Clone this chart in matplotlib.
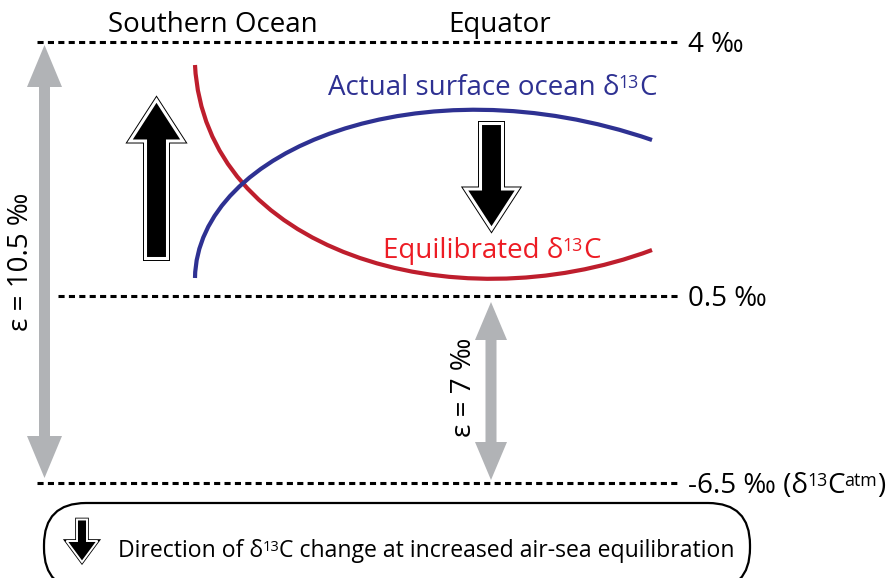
import numpy as np
import matplotlib
matplotlib.use("Agg")
import matplotlib.pyplot as plt
from matplotlib.path import Path
from matplotlib.patches import PathPatch, Polygon, FancyBboxPatch
from matplotlib.transforms import IdentityTransform

plt.rcParams['font.family'] = ['Open Sans', 'DejaVu Sans']

# reference levels (permil) and where they sit on the sketch
level_values = [4, 0.5, -6.5]
level_labels = [
    [('4 ‰', False)],
    [('0.5 ‰', False)],
    [('-6.5 ‰ (δ', False), ('13', True), ('C', False), ('atm', True), (')', False)],
]
level_y = [42, 296, 483]
level_x0 = [37, 58, 37]

# fractionation between levels
eps_labels = ['ε = 10.5 ‰', 'ε = 7 ‰']

# surface ocean curves as cubic bezier control points,
# Southern Ocean (left) to Equator (right)
actual_x = [195, 197, 420, 652]
actual_y = [278, 150, 60, 140]
equil_x = [195, 205, 450, 652]
equil_y = [65, 250, 325, 250]

BLUE = '#2e3192'
RED_LINE = '#be1e2d'
RED_TEXT = '#ed1c24'
GREY = '#b1b3b6'


def bezier_path(xs, ys):
    verts = list(zip(xs, ys))
    codes = [Path.MOVETO] + [Path.CURVE4] * 3
    return Path(verts, codes)


def block_arrow(ax, x, y_tail, y_tip, shaft_hw, head_hw, y_head, black_lw, white_lw):
    # black arrow with a white band and thin black outline
    verts = [(x - shaft_hw, y_tail), (x - shaft_hw, y_head), (x - head_hw, y_head),
             (x, y_tip), (x + head_hw, y_head), (x + shaft_hw, y_head),
             (x + shaft_hw, y_tail)]
    ax.add_patch(Polygon(verts, closed=True, facecolor='black', edgecolor='black',
                         lw=black_lw, joinstyle='miter'))
    ax.add_patch(Polygon(verts, closed=True, facecolor='black', edgecolor='white',
                         lw=white_lw, joinstyle='miter'))


def double_arrow(ax, x, y_top, y_bot, shaft_w, head_w, head_len):
    s = shaft_w / 2
    h = head_w / 2
    verts = [(x, y_top), (x + h, y_top + head_len), (x + s, y_top + head_len),
             (x + s, y_bot - head_len), (x + h, y_bot - head_len), (x, y_bot),
             (x - h, y_bot - head_len), (x - s, y_bot - head_len),
             (x - s, y_top + head_len), (x - h, y_top + head_len)]
    ax.add_patch(Polygon(verts, closed=True, facecolor=GREY, edgecolor='none'))


def rich_text(ax, x, y, parts, size, color='black', sup_scale=0.64, rise=0.25):
    # text pieces set one after another, superscripts smaller and raised
    renderer = ax.figure.canvas.get_renderer()
    inv = ax.transData.inverted()
    for s, sup in parts:
        fs = size * sup_scale if sup else size
        yy = y - size * rise * 100 / 72 if sup else y
        t = ax.text(x, yy, s, fontsize=fs, color=color, ha='left', va='baseline')
        bb = t.get_window_extent(renderer=renderer)
        x = inv.transform((bb.x1, 0))[0] - (0.0 if sup else 0.8)


fig = plt.figure(figsize=(8.9, 5.78), dpi=100)
ax = fig.add_axes([0, 0, 1, 1])
ax.set_xlim(0, 890)
ax.set_ylim(578, 0)
ax.axis('off')

# dashed reference levels
for y, x0, lab in zip(level_y, level_x0, level_labels):
    ax.plot([x0, 678], [y, y], color='black', lw=2.2, ls=(0, (2.0, 1.4)),
            solid_capstyle='butt', dash_capstyle='butt')
    rich_text(ax, 688, y + 10, lab, 20)

# grey epsilon arrows
double_arrow(ax, 44.5, 45, 478, 11, 35, 42)
double_arrow(ax, 491, 302, 480, 11, 32, 38)
ax.text(21, 262, eps_labels[0], fontsize=20, rotation=90, ha='center', va='center')
ax.text(464, 387, eps_labels[1], fontsize=20, rotation=90, ha='center', va='center')

# surface curves
ax.add_patch(PathPatch(bezier_path(equil_x, equil_y), fill=False, edgecolor=RED_LINE,
                       lw=3.0, capstyle='butt'))
ax.add_patch(PathPatch(bezier_path(actual_x, actual_y), fill=False, edgecolor=BLUE,
                       lw=3.0, capstyle='butt'))

# direction arrows
block_arrow(ax, 156.5, 258.5, 100, 11, 26.5, 141, 3.6, 2.2)
block_arrow(ax, 491.5, 123.5, 229, 11, 26, 189, 3.6, 2.2)

# labels
ax.text(213, 32, 'Southern Ocean', fontsize=20, ha='center', va='baseline')
ax.text(500, 32, 'Equator', fontsize=20, ha='center', va='baseline')
rich_text(ax, 328, 95, [('Actual surface ocean δ', False), ('13', True), ('C', False)],
          20, color=BLUE)
rich_text(ax, 383, 258, [('Equilibrated δ', False), ('13', True), ('C', False)],
          20, color=RED_TEXT)

# key box at the bottom (drawn in pixels, origin bottom-left)
ax.add_patch(FancyBboxPatch((44, 578 - 590), 706, 87,
                            boxstyle='round,pad=0,rounding_size=42',
                            transform=IdentityTransform(),
                            facecolor='none', edgecolor='black', lw=1.6))
block_arrow(ax, 82, 519.5, 562, 5, 15.5, 541, 2.6, 1.4)
rich_text(ax, 118, 557, [('Direction of δ', False), ('13', True),
                         ('C change at increased air-sea equilibration', False)], 16.6)

fig.savefig('out.png', dpi=100)
